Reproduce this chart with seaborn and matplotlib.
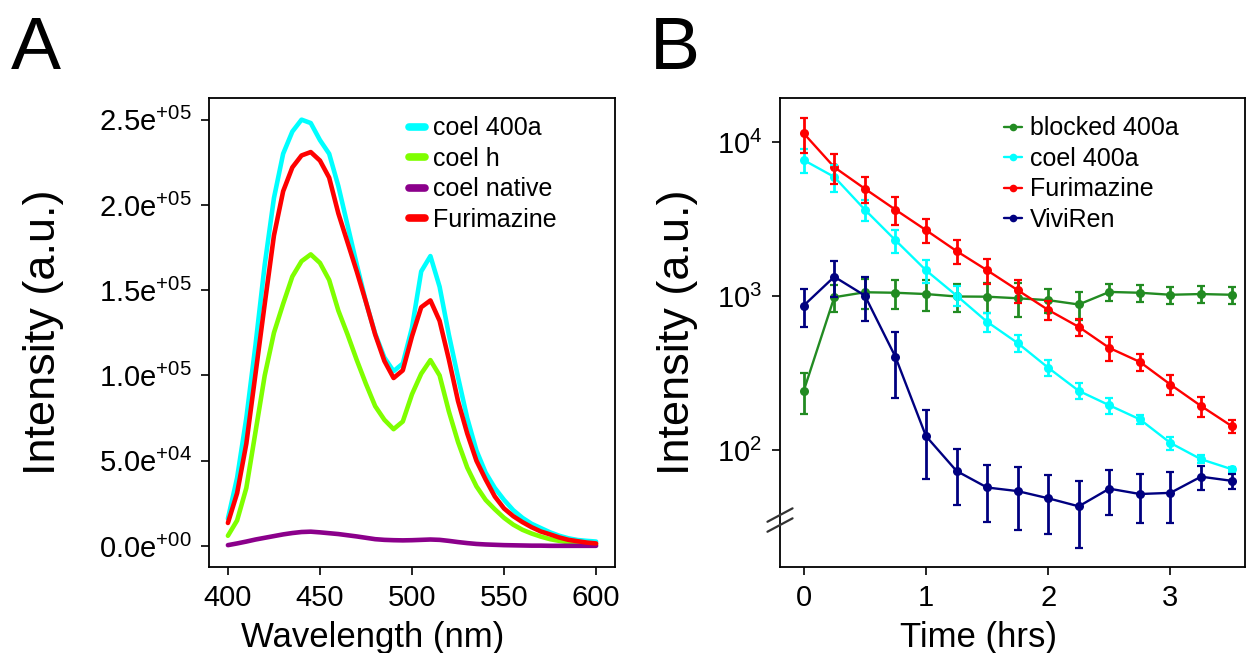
import numpy as np
import pandas as pd
import matplotlib
matplotlib.use("Agg")
import matplotlib.pyplot as plt
import seaborn as sns
from matplotlib.ticker import FuncFormatter, FixedLocator, NullLocator, LogFormatterSciNotation

# ---------------- Panel A data (emission spectra) ----------------
wavelength = list(range(400, 601, 5))
spec_labels = ["coel 400a", "coel h", "coel native", "Furimazine"]
coel_400a = [16000, 40000, 75000, 118000, 165000, 204000, 230000, 243000, 250000, 248000,
             238000, 230000, 211000, 188000, 165000, 143000, 124500, 110500, 102500, 107000,
             128000, 161000, 170000, 152000, 124000, 99000, 75000, 56000, 43000, 34000,
             27000, 21000, 16500, 13000, 10500, 8000, 6000, 4500, 3500, 3000, 2600]
coel_h = [6000, 15000, 34000, 67000, 100000, 125000, 142000, 158000, 167000, 171000,
          166000, 156000, 138000, 124000, 109000, 95000, 82000, 74000, 68500, 73000,
          89000, 101000, 109000, 100000, 79000, 61000, 46000, 35000, 27000, 21500,
          16500, 12500, 9500, 7300, 5500, 4000, 3000, 2200, 1600, 1200, 1000]
coel_native = [500, 1500, 2600, 3800, 4800, 5800, 6800, 7600, 8200, 8400,
               8000, 7500, 7000, 6300, 5600, 4800, 4000, 3600, 3400, 3300,
               3400, 3600, 3800, 3600, 3000, 2300, 1700, 1200, 900, 700,
               500, 400, 300, 200, 200, 100, 100, 100, 100, 100, 100]
furimazine_spec = [13500, 31000, 60000, 101000, 142000, 182000, 208000, 222000, 229000, 231000,
                   226000, 216000, 195000, 178000, 161000, 143000, 124000, 108500, 98500, 103000,
                   123000, 140000, 144000, 132000, 109500, 85000, 66000, 50000, 39000, 29000,
                   22000, 17500, 14000, 11000, 8500, 6800, 5000, 3600, 2800, 2000, 1500]
spec_colors = ["#00FFFF", "#7FFF00", "#8B008B", "#FF0000"]

# ---------------- Panel B data (time course) ----------------
time_hrs = [0, 0.25, 0.5, 0.75, 1, 1.25, 1.5, 1.75, 2, 2.25, 2.5, 2.75, 3, 3.25, 3.5]
time_labels = ["blocked 400a", "coel 400a", "Furimazine", "ViviRen"]
blocked_400a = [242, 982, 1058, 1050, 1030, 993, 990, 967, 940, 881, 1063, 1050, 1019, 1030, 1019]
blocked_400a_err = [72, 190, 230, 230, 235, 210, 220, 240, 170, 180, 140, 135, 130, 135, 130]
coel_400a_t = [7640, 5940, 3640, 2305, 1470, 1007, 680, 495, 342, 242, 195, 158, 111, 87, 75]
coel_400a_t_err = [1375, 1190, 550, 390, 250, 150, 100, 64, 41, 29, 23, 10, 11, 5, 3]
furimazine_t = [11400, 6870, 4980, 3640, 2680, 1960, 1470, 1092, 812, 630, 460, 373, 266, 193, 143]
furimazine_t_err = [2900, 1500, 950, 730, 480, 350, 265, 185, 115, 82, 83, 45, 40, 29, 14]
viviren = [867, 1334, 1007, 403, 123, 73, 57, 54, 48.5, 43, 56, 51.7, 52.6, 67, 63]
viviren_err = [240, 350, 320, 185, 58, 29, 23, 24, 20, 20, 18, 18, 19, 12, 7]
time_colors = ["#228B22", "#00FFFF", "#FF0000", "#000080"]

# ---------------- style ----------------
sns.set_theme(style="white")
plt.rcParams['font.family'] = ['Liberation Sans', 'DejaVu Sans']
plt.rcParams['mathtext.default'] = 'regular'
plt.rcParams['text.color'] = 'black'
plt.rcParams['axes.labelcolor'] = 'black'

W, H = 1248, 653
fig = plt.figure(figsize=(W / 100, H / 100), dpi=100)
fig.patch.set_facecolor("white")

def px_axes(l, t, r, b):
    return [l / W, 1 - b / H, (r - l) / W, (b - t) / H]

axA = fig.add_axes(px_axes(209.5, 98, 614.5, 566.8))
axB = fig.add_axes(px_axes(780, 98, 1245, 566.8))

# ---- Panel A ----
dfA = pd.DataFrame({
    "wl": wavelength * 4,
    "I": coel_400a + coel_h + coel_native + furimazine_spec,
    "series": sum([[lab] * len(wavelength) for lab in spec_labels], []),
})
sns.lineplot(data=dfA, x="wl", y="I", hue="series", hue_order=spec_labels,
             palette=spec_colors, linewidth=3.3, errorbar=None, ax=axA)
axA.set_xlim(390, 610)
axA.set_ylim(-12200, 262700)
axA.xaxis.set_major_locator(FixedLocator([400, 450, 500, 550, 600]))
axA.yaxis.set_major_locator(FixedLocator([0, 50000, 100000, 150000, 200000, 250000]))

def sci_fmt(v, pos):
    if v == 0:
        return "0.0e$^{+00}$"
    e = int(np.floor(np.log10(abs(v))))
    m = v / 10 ** e
    return f"{m:.1f}e$^{{+{e:02d}}}$"

axA.yaxis.set_major_formatter(FuncFormatter(sci_fmt))
axA.set_xlabel("Wavelength (nm)", fontsize=25, color="black")
axA.set_ylabel("Intensity (a.u.)", fontsize=32.5, color="black")
hA, lA = axA.get_legend_handles_labels()
legA = axA.legend(hA, lA, loc="upper left", bbox_to_anchor=(0.492, 0.961), frameon=False,
                  fontsize=18, handlelength=0.65, handletextpad=0.32, labelspacing=0.26,
                  borderpad=0, borderaxespad=0, labelcolor="black")
for ln in legA.get_lines():
    ln.set_linewidth(5.5)

# ---- Panel B ----
dfB = pd.DataFrame({
    "t": time_hrs * 4,
    "I": blocked_400a + coel_400a_t + furimazine_t + viviren,
    "series": sum([[lab] * len(time_hrs) for lab in time_labels], []),
})
errs = [blocked_400a_err, coel_400a_t_err, furimazine_t_err, viviren_err]
vals = [blocked_400a, coel_400a_t, furimazine_t, viviren]
sns.lineplot(data=dfB, x="t", y="I", hue="series", hue_order=time_labels,
             palette=time_colors, linewidth=1.7, marker="o", markersize=6.5,
             markeredgewidth=0, errorbar=None, ax=axB)
for v, e, c in zip(vals, errs, time_colors):
    axB.errorbar(time_hrs, v, yerr=e, fmt="none", ecolor=c, elinewidth=2.0,
                 capsize=2.8, capthick=1.6, zorder=2)
axB.set_yscale("log")
axB.set_xlim(-0.194, 3.61)
axB.set_ylim(17.4, 19350)
axB.xaxis.set_major_locator(FixedLocator([0, 1, 2, 3]))
axB.yaxis.set_major_locator(FixedLocator([100, 1000, 10000]))
axB.yaxis.set_major_formatter(LogFormatterSciNotation())
axB.yaxis.set_minor_locator(NullLocator())
axB.set_xlabel("Time (hrs)", fontsize=25, color="black")
axB.set_ylabel("Intensity (a.u.)", fontsize=32.5, color="black")
hB, lB = axB.get_legend_handles_labels()
legB = axB.legend(hB, lB, loc="upper left", bbox_to_anchor=(0.482, 0.961), frameon=False,
                  fontsize=18, handlelength=0.72, handletextpad=0.3, labelspacing=0.26,
                  borderpad=0, borderaxespad=0, labelcolor="black")
for ln in legB.get_lines():
    ln.set_linewidth(1.7)
    ln.set_markersize(5.5)

# axis-break marks on the left spine of panel B
for yc in (0.1104, 0.0891):
    axB.plot([-0.027, 0.027], [yc - 0.0143, yc + 0.0143], transform=axB.transAxes,
             color="#333333", lw=1.6, clip_on=False, zorder=5)

for ax in (axA, axB):
    for sp in ax.spines.values():
        sp.set_color("black")
        sp.set_linewidth(1.3)
    ax.tick_params(axis="both", which="major", bottom=True, left=True, direction="out",
                   length=5.8, width=1.2, color="black", labelsize=21, labelcolor="black")
    ax.tick_params(axis="y", pad=7)
    ax.tick_params(axis="x", pad=6.5)
    ax.set_facecolor("white")

# label placement (descent edge of rotated y label / top of x label)
axA.yaxis.set_label_coords((64.5 - 209.5) / (614.5 - 209.5), 0.5)
axB.yaxis.set_label_coords((698.0 - 780) / (1245 - 780), 0.5)
axA.xaxis.set_label_coords((372.5 - 209.5) / (614.5 - 209.5), (566.8 - 621.5) / 468.8)
axB.xaxis.set_label_coords((979.0 - 780) / (1245 - 780), (566.8 - 620.5) / 468.8)

fig.text(11 / W, 1 - 15 / H, "A", fontsize=54, va="top", ha="left", color="black")
fig.text(650 / W, 1 - 15 / H, "B", fontsize=54, va="top", ha="left", color="black")

fig.savefig("out.png", dpi=100, facecolor="white")
